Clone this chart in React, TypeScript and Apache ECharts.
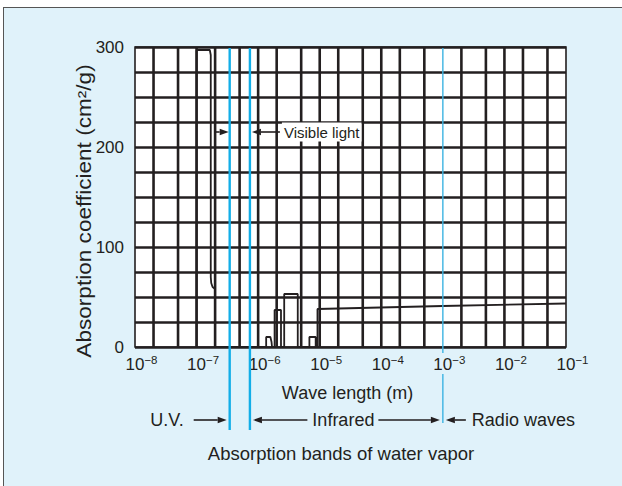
import React, { useEffect, useRef } from "react";
import * as echarts from "echarts";

// Axis ranges
const X_MIN = 1e-8;
const X_MAX = 1e-1;
const Y_MIN = 0;
const Y_MAX = 300;
const Y_STEP = 25;
const Y_LABELS = [0, 100, 200, 300];
// vertical grid lines inside each decade (1×, 2× and 5×)
const GRID_MULTIPLES = [1, 2, 5];

// Absorption of water vapour: wavelength (m) and absorption coefficient (cm²/g)
const WAVELENGTH = [
  1e-7, 1e-7, 1.64e-7, 1.7e-7, 1.7e-7, 1.73e-7, 1.82e-7, 2e-7, 2e-7,
  1.35e-6, 1.35e-6, 1.58e-6, 1.65e-6, 1.68e-6,
  1.85e-6, 1.85e-6, 2.35e-6, 2.35e-6,
  2.65e-6, 2.65e-6, 4.4e-6, 4.4e-6,
  6.8e-6, 6.8e-6, 8.6e-6, 8.6e-6,
  9.2e-6, 9.2e-6, 1e-3, 1e-1,
];
const ABSORPTION = [
  0, 297, 297, 292, 70, 64, 60, 58, 0,
  0, 10, 10, 5, 0,
  0, 37, 37, 0,
  0, 53, 53, 0,
  0, 10, 10, 0,
  0, 38, 41, 43.5,
];

// Band boundaries (m)
const UV_EDGE = 3.45e-7;
const IR_EDGE = 7.35e-7;
const RADIO_EDGE = 1e-3;

const INK = "#231f20";
const CYAN = "#12aee8";
const FONT = "'Liberation Sans', Arial, Helvetica, sans-serif";

// vertical grid positions; the radio boundary line takes the place of the 1e-3 line
const gridX: number[] = [];
for (let e = -8; e < -1; e++) {
  for (const m of GRID_MULTIPLES) {
    const v = m * Math.pow(10, e);
    if (e === -8 && m === 1) continue;
    if (Math.abs(v - RADIO_EDGE) < 1e-12) continue;
    gridX.push(v);
  }
}

const curve = WAVELENGTH.map((w, i) => [w, ABSORPTION[i]]);

const baseOption: any = {
  animation: false,
  textStyle: { fontFamily: FONT, color: INK },
  grid: {
    left: 135,
    right: 56,
    top: 47,
    bottom: 139,
    show: true,
    backgroundColor: "#ffffff",
    borderColor: INK,
    borderWidth: 1.6,
  },
  xAxis: {
    type: "log",
    logBase: 10,
    min: X_MIN,
    max: X_MAX,
    splitNumber: 7,
    name: "Wave length (m)",
    nameLocation: "middle",
    nameGap: 37,
    nameTextStyle: { fontSize: 18, color: INK, fontFamily: FONT, padding: [0, 6, 0, 0] },
    axisLine: { show: false },
    axisTick: { show: false },
    splitLine: { show: false },
    minorTick: { show: false },
    axisLabel: {
      margin: 7,
      padding: [0, 0, 0, 13],
      formatter: (v: number) => {
        const e = Math.round(Math.log10(v));
        return "{b|10}{s|\u2212" + Math.abs(e) + "}";
      },
      rich: {
        b: { fontSize: 17, lineHeight: 20, color: INK, fontFamily: FONT },
        s: { fontSize: 11.5, lineHeight: 11, verticalAlign: "top", color: INK, fontFamily: FONT },
      },
    },
  },
  yAxis: {
    type: "value",
    min: Y_MIN,
    max: Y_MAX,
    interval: Y_STEP,
    axisLine: { show: false },
    axisTick: { show: false },
    splitLine: { show: true, lineStyle: { color: INK, width: 2.6 } },
    axisLabel: {
      margin: 11,
      fontSize: 17,
      color: INK,
      fontFamily: FONT,
      formatter: (v: number) => (Y_LABELS.indexOf(v) >= 0 ? String(v) : ""),
    },
  },
  series: [
    {
      // vertical grid lines of the log scale
      type: "custom",
      silent: true,
      z: 1,
      clip: false,
      data: gridX.map((v) => [v, Y_MIN]),
      encode: { x: 0, y: 1 },
      renderItem: (_params: any, api: any) => {
        const bottom = api.coord([api.value(0), Y_MIN]);
        const topPt = api.coord([api.value(0), Y_MAX]);
        return {
          type: "line",
          shape: { x1: bottom[0], y1: bottom[1], x2: topPt[0], y2: topPt[1] },
          style: { stroke: INK, lineWidth: 2.6 },
        };
      },
    },
    {
      type: "line",
      data: curve,
      showSymbol: false,
      symbol: "none",
      z: 3,
      lineStyle: { color: INK, width: 1.8 },
    },
  ],
};

function arrow(fromX: number, toX: number, y: number) {
  const dir = toX > fromX ? 1 : -1;
  const head = 9;
  const half = 3.2;
  return [
    {
      type: "line",
      z: 20,
      shape: { x1: fromX, y1: y, x2: toX - dir * head, y2: y },
      style: { stroke: INK, lineWidth: 1.6 },
    },
    {
      type: "polygon",
      z: 20,
      shape: {
        points: [
          [toX, y],
          [toX - dir * head, y - half],
          [toX - dir * head, y + half],
        ],
      },
      style: { fill: INK },
    },
  ];
}

function label(text: string, x: number, y: number, align: string, extra: any = {}) {
  return {
    type: "text",
    z: 21,
    x,
    y,
    style: {
      text,
      fill: INK,
      font: `18px ${FONT}`,
      align,
      verticalAlign: "middle",
      ...extra,
    },
  };
}

export default function App() {
  const ref = useRef<HTMLDivElement>(null);

  useEffect(() => {
    document.body.style.margin = "0";
    const chart = echarts.init(ref.current!, undefined, { renderer: "svg" });
    chart.setOption(baseOption);

    const px = (v: number) => chart.convertToPixel({ xAxisIndex: 0 }, v) as number;
    const py = (v: number) => chart.convertToPixel({ yAxisIndex: 0 }, v) as number;

    const uv = px(UV_EDGE);
    const ir = px(IR_EDGE);
    const radio = px(RADIO_EDGE);
    const top = py(Y_MAX) + 1;
    const bottom = py(Y_MIN);
    const bandY = 420;
    const visY = py(215);
    const mid = (ir + radio) / 2 - 3;

    const graphic: any[] = [
      // band boundaries
      { type: "line", z: 15, shape: { x1: uv, y1: top, x2: uv, y2: 430 }, style: { stroke: CYAN, lineWidth: 2.4 } },
      { type: "line", z: 15, shape: { x1: ir, y1: top, x2: ir, y2: 430 }, style: { stroke: CYAN, lineWidth: 2.4 } },
      { type: "line", z: 15, shape: { x1: radio, y1: top, x2: radio, y2: bottom + 6 }, style: { stroke: "#3cb4e2", lineWidth: 1.4 } },
      { type: "line", z: 15, shape: { x1: radio, y1: 374, x2: radio, y2: 423 }, style: { stroke: "#3cb4e2", lineWidth: 1.4 } },
      // visible light marker
      ...arrow(uv - 15, uv - 1, visY),
      ...arrow(ir + 30, ir + 2, visY),
      label("Visible light", ir + 32, visY, "left", {
        font: `15px ${FONT}`,
        backgroundColor: "#ffffff",
        padding: [2, 2, 2, 2],
      }),
      // spectral regions
      label("U.V.", uv - 46, bandY, "right"),
      ...arrow(uv - 36, uv - 3, bandY),
      ...arrow(mid - 36, ir + 3, bandY),
      label("Infrared", mid, bandY, "center"),
      ...arrow(mid + 35, radio - 3, bandY),
      ...arrow(radio + 23, radio + 3, bandY),
      label("Radio waves", radio + 29, bandY, "left"),
      label("Absorption bands of water vapor", 341, 453, "center", { font: `18.5px ${FONT}` }),
      // y axis title
      {
        type: "text",
        z: 21,
        x: 84,
        y: 211,
        rotation: Math.PI / 2,
        scaleX: 1.13,
        style: {
          text: "Absorption coefficient (cm\u00b2/g)",
          fill: INK,
          font: `20px ${FONT}`,
          align: "center",
          verticalAlign: "middle",
        },
      },
    ];

    chart.setOption({ graphic });
    return () => chart.dispose();
  }, []);

  return (
    <div style={{ position: "relative", width: 622, height: 486, overflow: "hidden", background: "#ffffff" }}>
      <div
        style={{
          position: "absolute",
          left: 3,
          top: 7,
          width: 700,
          height: 600,
          background: "#e0f2fa",
          borderLeft: "1px solid #555555",
          borderTop: "1px solid #555555",
        }}
      />
      <div ref={ref} style={{ position: "absolute", left: 0, top: 0, width: 622, height: 486 }} />
    </div>
  );
}
